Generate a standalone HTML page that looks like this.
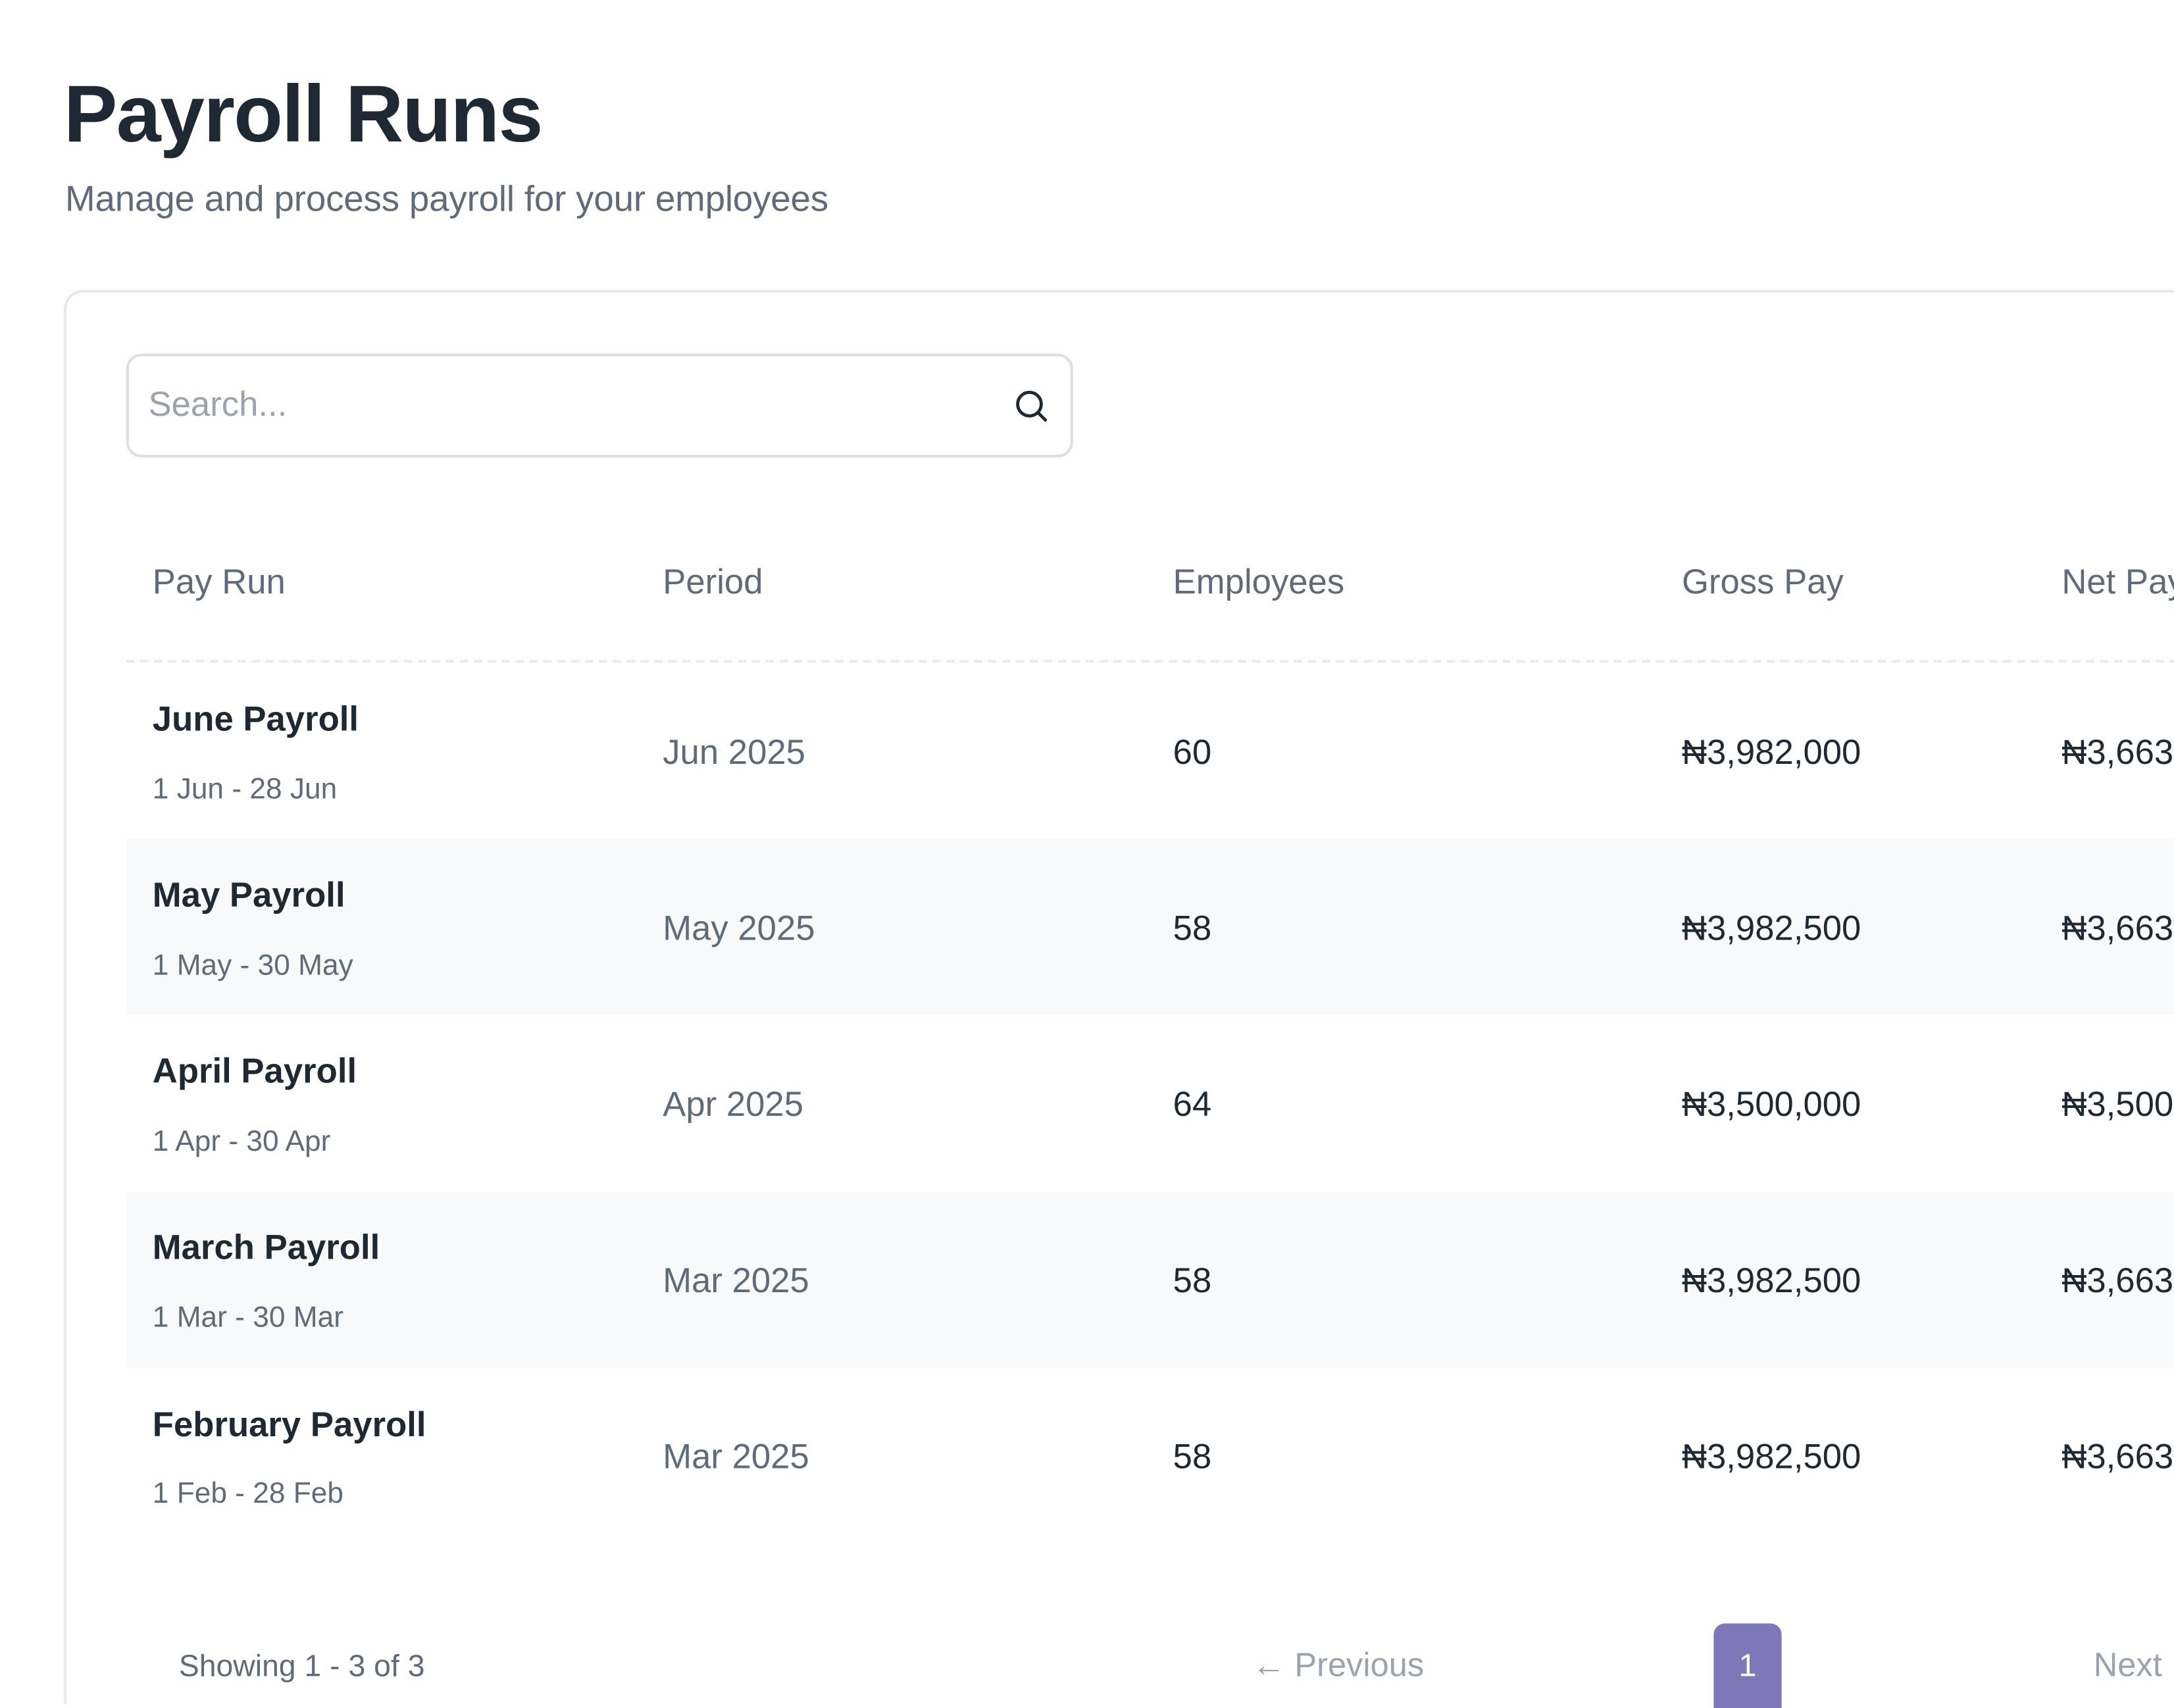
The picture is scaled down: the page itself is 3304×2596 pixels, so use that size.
<!DOCTYPE html>
<html><head><meta charset="utf-8"><style>
html,body{margin:0;padding:0;background:#fff;overflow:hidden}
body{width:3304px;height:2596px;position:relative}
#w{position:absolute;left:0;top:0;width:1568px;height:1232px;transform:scale(2.10714);transform-origin:0 0;font-family:"Liberation Sans",sans-serif;overflow:hidden}
.a{position:absolute;white-space:nowrap}
h1{position:absolute;left:46px;top:49px;margin:0;font-size:58px;font-weight:bold;color:#1f2933;letter-spacing:-0.8px}
.sub{left:47px;top:128px;font-size:26px;color:#5f6b7a;letter-spacing:-0.1px}
.card{position:absolute;left:46px;top:209px;width:1600px;height:1020px;border:2px solid #e6e8eb;border-bottom:none;border-radius:14px 14px 0 0;box-sizing:border-box}
.search{position:absolute;left:91px;top:255px;width:683px;height:75px;border:2px solid #dcdfe4;border-radius:11px;box-sizing:border-box}
.ph{left:107px;top:278px;font-size:25px;color:#9aa3ae}
.hd{top:406px;font-size:25px;color:#5f6b7a}
.dash{position:absolute;left:91px;top:476px;width:1480px;border-top:2px dashed #e8eaed}
.row{position:absolute;left:91px;width:1480px;height:127px}
.alt{background:#f8f9fb}
.nm{font-size:25px;font-weight:bold;color:#1f2933}
.dt{font-size:21px;color:#5f6b7a}
.per{font-size:25px;color:#5f6b7a}
.v{font-size:25px;color:#1f2933}
.ft{font-size:22px;color:#5f6b7a}
.btn{position:absolute;left:1236px;top:1171px;width:49px;height:61px;background:#7e78b8;border-radius:8px 8px 0 0;color:#fff;font-size:23px;text-align:center;line-height:60px}
</style></head><body><div id="w">
<h1>Payroll Runs</h1>
<div class="a sub">Manage and process payroll for your employees</div>
<div class="card"></div>
<div class="search"></div>
<div class="a ph">Search...</div>
<svg class="a" style="left:731px;top:280px" width="26" height="26" viewBox="0 0 26 26"><circle cx="11.5" cy="11.5" r="8.5" fill="none" stroke="#1f2933" stroke-width="2.3"/><line x1="17.5" y1="17.5" x2="23" y2="23" stroke="#1f2933" stroke-width="2.3" stroke-linecap="round"/></svg>
<div class="a hd" style="left:110px">Pay Run</div>
<div class="a hd" style="left:478px">Period</div>
<div class="a hd" style="left:846px">Employees</div>
<div class="a hd" style="left:1213px">Gross Pay</div>
<div class="a hd" style="left:1487px">Net Pay</div>
<div class="dash"></div>

<div class="row" style="top:478px"></div>
<div class="row alt" style="top:605px"></div>
<div class="row" style="top:733px"></div>
<div class="row alt" style="top:860px"></div>
<div class="row" style="top:987px"></div>

<div class="a nm" style="left:110px;top:505px">June Payroll</div>
<div class="a dt" style="left:110px;top:558px">1 Jun - 28 Jun</div>
<div class="a per" style="left:478px;top:529px">Jun 2025</div>
<div class="a v" style="left:846px;top:529px">60</div>
<div class="a v" style="left:1213px;top:529px">₦3,982,000</div>
<div class="a v" style="left:1487px;top:529px">₦3,663,000</div>

<div class="a nm" style="left:110px;top:632px">May Payroll</div>
<div class="a dt" style="left:110px;top:685px">1 May - 30 May</div>
<div class="a per" style="left:478px;top:656px">May 2025</div>
<div class="a v" style="left:846px;top:656px">58</div>
<div class="a v" style="left:1213px;top:656px">₦3,982,500</div>
<div class="a v" style="left:1487px;top:656px">₦3,663,000</div>

<div class="a nm" style="left:110px;top:759px">April Payroll</div>
<div class="a dt" style="left:110px;top:812px">1 Apr - 30 Apr</div>
<div class="a per" style="left:478px;top:783px">Apr 2025</div>
<div class="a v" style="left:846px;top:783px">64</div>
<div class="a v" style="left:1213px;top:783px">₦3,500,000</div>
<div class="a v" style="left:1487px;top:783px">₦3,500,000</div>

<div class="a nm" style="left:110px;top:886px">March Payroll</div>
<div class="a dt" style="left:110px;top:939px">1 Mar - 30 Mar</div>
<div class="a per" style="left:478px;top:910px">Mar 2025</div>
<div class="a v" style="left:846px;top:910px">58</div>
<div class="a v" style="left:1213px;top:910px">₦3,982,500</div>
<div class="a v" style="left:1487px;top:910px">₦3,663,000</div>

<div class="a nm" style="left:110px;top:1014px">February Payroll</div>
<div class="a dt" style="left:110px;top:1066px">1 Feb - 28 Feb</div>
<div class="a per" style="left:478px;top:1037px">Mar 2025</div>
<div class="a v" style="left:846px;top:1037px">58</div>
<div class="a v" style="left:1213px;top:1037px">₦3,982,500</div>
<div class="a v" style="left:1487px;top:1037px">₦3,663,000</div>

<div class="a ft" style="left:129px;top:1189px">Showing 1 - 3 of 3</div>
<div class="a ft" style="left:903px;top:1188px;color:#9aa3ae;font-size:24px">← Previous</div>
<div class="btn">1</div>
<div class="a ft" style="left:1510px;top:1188px;color:#9aa3ae;font-size:24px">Next</div>
</div></body></html>
